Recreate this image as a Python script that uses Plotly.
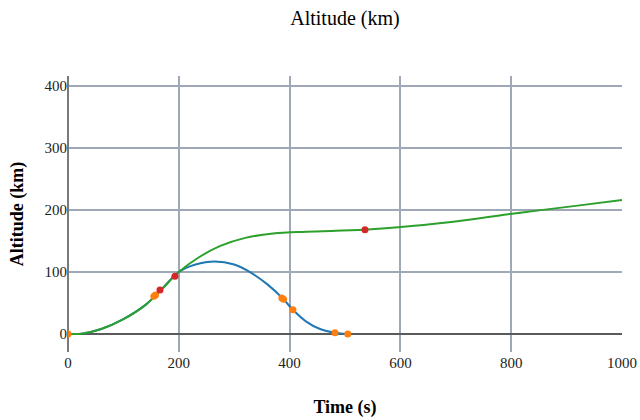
import plotly.graph_objects as go

# Green trajectory (time s, altitude km)
green_t = [0, 25, 60, 100, 140, 170, 200, 235, 275, 320, 370, 430, 536, 620, 720, 820, 920, 1000]
green_alt = [0, 0.5, 8, 24, 47, 73, 100, 123, 142, 155, 162, 165, 168, 174, 184, 196, 207, 216]

# Blue trajectory
blue_t = [0, 25, 60, 100, 140, 170, 200, 230, 265, 300, 330, 360, 388, 406, 430, 455, 482, 505]
blue_alt = [0, 0.5, 8, 24, 47, 73, 100, 112, 117, 112, 99, 80, 57, 39, 20, 8, 2, 0]

# Orange event markers
orange_t = [0, 155, 158, 386, 389, 406, 482, 505]
orange_alt = [0, 61, 63, 58, 56, 39, 2, 0]

# Red event markers
red_t = [166, 193, 536]
red_alt = [71, 93, 168]

fig = go.Figure()
fig.add_trace(go.Scatter(x=blue_t, y=blue_alt, mode="lines",
                         line=dict(color="#1f77b4", width=2, shape="spline", smoothing=1)))
fig.add_trace(go.Scatter(x=green_t, y=green_alt, mode="lines",
                         line=dict(color="#2ca02c", width=2, shape="spline", smoothing=1)))
fig.add_trace(go.Scatter(x=orange_t, y=orange_alt, mode="markers",
                         marker=dict(color="#ff7f0e", size=7)))
fig.add_trace(go.Scatter(x=red_t, y=red_alt, mode="markers",
                         marker=dict(color="#d62728", size=7)))

fig.update_layout(
    width=640, height=420,
    margin=dict(l=68, r=18, t=76, b=68, autoexpand=False),
    paper_bgcolor="white", plot_bgcolor="white",
    showlegend=False,
    title=dict(text="Altitude (km)", x=0.539, xanchor="center", y=0.957, yanchor="middle",
               font=dict(family="Liberation Serif", size=20, color="black")),
    xaxis=dict(range=[0, 1000], tickvals=[0, 200, 400, 600, 800, 1000],
               showgrid=True, gridcolor="#9ea8b7", gridwidth=1.5,
               zeroline=True, zerolinecolor="#7a7a7a", zerolinewidth=2,
               showline=False, ticks="", automargin=False,
               tickfont=dict(family="Liberation Serif", size=15, color="#222"),
               title=dict(text="<b>Time (s)</b>", standoff=30,
                          font=dict(family="Liberation Serif", size=18, color="black"))),
    yaxis=dict(range=[-29, 416], tickvals=[0, 100, 200, 300, 400],
               showgrid=True, gridcolor="#9ea8b7", gridwidth=1.5,
               zeroline=True, zerolinecolor="#5a5a5a", zerolinewidth=1.5,
               showline=False, ticks="", automargin=False,
               tickfont=dict(family="Liberation Serif", size=15, color="#222"),
               title=dict(text="<b>Altitude (km)</b>", standoff=16,
                          font=dict(family="Liberation Serif", size=18, color="black"))),
)

fig.write_html("out.html",
               config={"displayModeBar": False},
               post_script="document.body.style.margin='0';document.body.style.overflow='hidden';")
